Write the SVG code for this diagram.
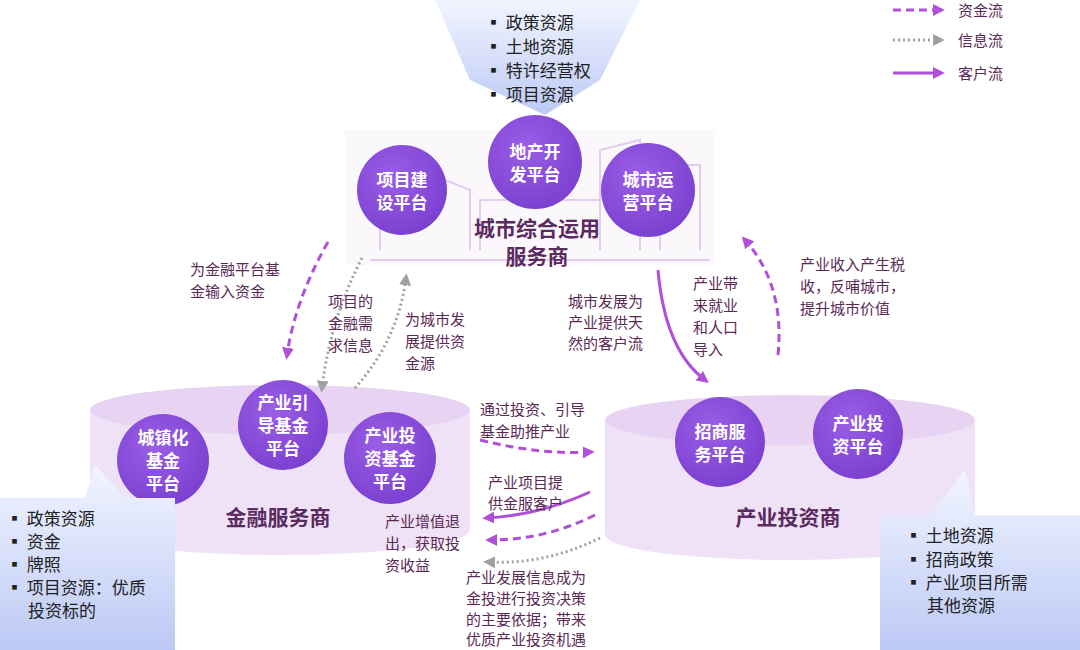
<svg xmlns="http://www.w3.org/2000/svg" width="1080" height="650" viewBox="0 0 1080 650">
<defs>
<style>
text{font-family:"Noto Sans CJK SC","Liberation Sans",sans-serif}
.c{fill:url(#cg)}
.ct{fill:#fff;font-size:17px;font-weight:bold;text-anchor:middle}
.lb{fill:#5a2a55;font-size:15px}
.bl{fill:#222;font-size:17px}
.big{fill:#5a2a60;font-size:21px;font-weight:bold;text-anchor:middle}
.money{fill:none;stroke:#b04fd8;stroke-width:3;stroke-dasharray:8,5}
.info{fill:none;stroke:#a0a0a0;stroke-width:3;stroke-dasharray:2,3}
.cust{fill:none;stroke:#b04fd8;stroke-width:3}
.call{fill:url(#bg)}
</style>
<radialGradient id="cg" cx="0.4" cy="0.35" r="0.7"><stop offset="0" stop-color="#9a5ee6"/><stop offset="1" stop-color="#7a3fcf"/></radialGradient>
<linearGradient id="bg" x1="0" y1="0" x2="0" y2="1"><stop offset="0" stop-color="#f2f5ff"/><stop offset="1" stop-color="#bcc9f5"/></linearGradient>
<marker id="ap" viewBox="0 0 10 10" refX="6" refY="5" markerWidth="4" markerHeight="4" orient="auto"><path d="M0,0L10,5L0,10z" fill="#b04fd8"/></marker>
<marker id="ag" viewBox="0 0 10 10" refX="6" refY="5" markerWidth="4" markerHeight="4" orient="auto"><path d="M0,0L10,5L0,10z" fill="#a0a0a0"/></marker>
</defs>
<rect width="1080" height="650" fill="#fff"/>

<g id="legend">
<line x1="893" y1="10" x2="940" y2="10" class="money" marker-end="url(#ap)"/><text x="958" y="16" class="lb">资金流</text>
<line x1="893" y1="40" x2="940" y2="40" class="info" marker-end="url(#ag)"/><text x="958" y="46" class="lb" fill="#777">信息流</text>
<line x1="893" y1="73" x2="940" y2="73" class="cust" marker-end="url(#ap)"/><text x="958" y="79" class="lb">客户流</text>
</g>

<g id="top-resources">
<path d="M435,0 L640,0 L600,80 L545,115 L470,80 Z" class="call"/>
<g class="bl"><text x="485" y="29">▪ 政策资源</text><text x="485" y="53">▪ 土地资源</text><text x="485" y="77">▪ 特许经营权</text><text x="485" y="101">▪ 项目资源</text></g>
</g>

<g id="city">
<rect x="345" y="130" width="370" height="135" fill="#fbf8fc"/>
<g fill="none" stroke="#e2cdef" stroke-width="2">
<path d="M370,260 L710,260 M380,250 L380,195 L420,170 L470,190 L470,250 M600,250 L600,150 L640,140 L640,250 M660,250 L660,165 L700,165 L700,250 M480,250 L480,200 L600,200"/>
</g>
<circle cx="402" cy="190" r="45" class="c"/><text x="402" y="186" class="ct">项目建</text><text x="402" y="209" class="ct">设平台</text>
<circle cx="535" cy="162" r="47" class="c"/><text x="535" y="158" class="ct">地产开</text><text x="535" y="181" class="ct">发平台</text>
<circle cx="648" cy="190" r="47" class="c"/><text x="648" y="186" class="ct">城市运</text><text x="648" y="209" class="ct">营平台</text>
<text x="537" y="236" class="big">城市综合运用</text><text x="537" y="264" class="big">服务商</text>
</g>

<g id="finance">
<path d="M90,410 L90,530 A190,25 0 0 0 470,530 L470,410 Z" fill="#efe2f6"/>
<ellipse cx="280" cy="410" rx="190" ry="25" fill="#e8d4f2"/>
<circle cx="163" cy="460" r="46" class="c"/><text x="163" y="444" class="ct">城镇化</text><text x="163" y="467" class="ct">基金</text><text x="163" y="490" class="ct">平台</text>
<circle cx="283" cy="425" r="45" class="c"/><text x="283" y="409" class="ct">产业引</text><text x="283" y="432" class="ct">导基金</text><text x="283" y="455" class="ct">平台</text>
<circle cx="390" cy="458" r="46" class="c"/><text x="390" y="442" class="ct">产业投</text><text x="390" y="465" class="ct">资基金</text><text x="390" y="488" class="ct">平台</text>
<text x="278" y="525" class="big">金融服务商</text>
</g>

<g id="industry">
<path d="M605,420 L605,535 A185,25 0 0 0 975,535 L975,420 Z" fill="#efe2f6"/>
<ellipse cx="790" cy="420" rx="185" ry="25" fill="#e8d4f2"/>
<circle cx="720" cy="442" r="45" class="c"/><text x="720" y="438" class="ct">招商服</text><text x="720" y="461" class="ct">务平台</text>
<circle cx="858" cy="434" r="45" class="c"/><text x="858" y="430" class="ct">产业投</text><text x="858" y="453" class="ct">资平台</text>
<text x="788" y="525" class="big">产业投资商</text>
</g>

<g id="left-resources">
<path d="M0,498 L85,498 L95,465 L125,498 L175,498 L175,650 L0,650 Z" class="call"/>
<g class="bl"><text x="6" y="525">▪ 政策资源</text><text x="6" y="548">▪ 资金</text><text x="6" y="571">▪ 牌照</text><text x="6" y="594">▪ 项目资源：优质</text><text x="28" y="617">投资标的</text></g>
</g>

<g id="right-resources">
<path d="M880,515 L930,515 L965,470 L975,515 L1080,515 L1080,650 L880,650 Z" class="call"/>
<g class="bl"><text x="905" y="542">▪ 土地资源</text><text x="905" y="566">▪ 招商政策</text><text x="905" y="589">▪ 产业项目所需</text><text x="927" y="612">其他资源</text></g>
</g>

<g id="connectors">
<path d="M328,242 Q295,300 287,355" class="money" marker-end="url(#ap)"/>
<path d="M362,258 Q330,320 322,388" class="info" marker-end="url(#ag)"/>
<path d="M355,388 Q398,340 406,278" class="info" marker-end="url(#ag)"/>
<path d="M658,270 Q665,350 705,380" class="cust" marker-end="url(#ap)"/>
<path d="M778,355 Q785,285 745,240" class="money" marker-end="url(#ap)"/>
<path d="M480,440 Q540,455 590,452" class="money" marker-end="url(#ap)"/>
<path d="M590,492 Q540,515 487,518" class="cust" marker-end="url(#ap)"/>
<path d="M595,515 Q545,540 490,540" class="money" marker-end="url(#ap)"/>
<path d="M600,538 Q545,565 488,562" class="info" marker-end="url(#ag)"/>
</g>

<g id="labels" class="lb">
<text x="190" y="275">为金融平台基</text><text x="190" y="297">金输入资金</text>
<text x="328" y="307">项目的</text><text x="328" y="329">金融需</text><text x="328" y="351">求信息</text>
<text x="405" y="325">为城市发</text><text x="405" y="347">展提供资</text><text x="405" y="369">金源</text>
<text x="568" y="307">城市发展为</text><text x="568" y="328">产业提供天</text><text x="568" y="349">然的客户流</text>
<text x="693" y="289">产业带</text><text x="693" y="311">来就业</text><text x="693" y="333">和人口</text><text x="693" y="355">导入</text>
<text x="800" y="270">产业收入产生税</text><text x="800" y="292">收，反哺城市，</text><text x="800" y="314">提升城市价值</text>
<text x="480" y="415">通过投资、引导</text><text x="480" y="437">基金助推产业</text>
<text x="488" y="488">产业项目提</text><text x="488" y="509">供金服客户</text>
<text x="385" y="527">产业增值退</text><text x="385" y="549">出，获取投</text><text x="385" y="571">资收益</text>
<text x="466" y="583">产业发展信息成为</text><text x="466" y="604">金投进行投资决策</text><text x="466" y="625">的主要依据；带来</text><text x="466" y="645">优质产业投资机遇</text>
</g>
</svg>
